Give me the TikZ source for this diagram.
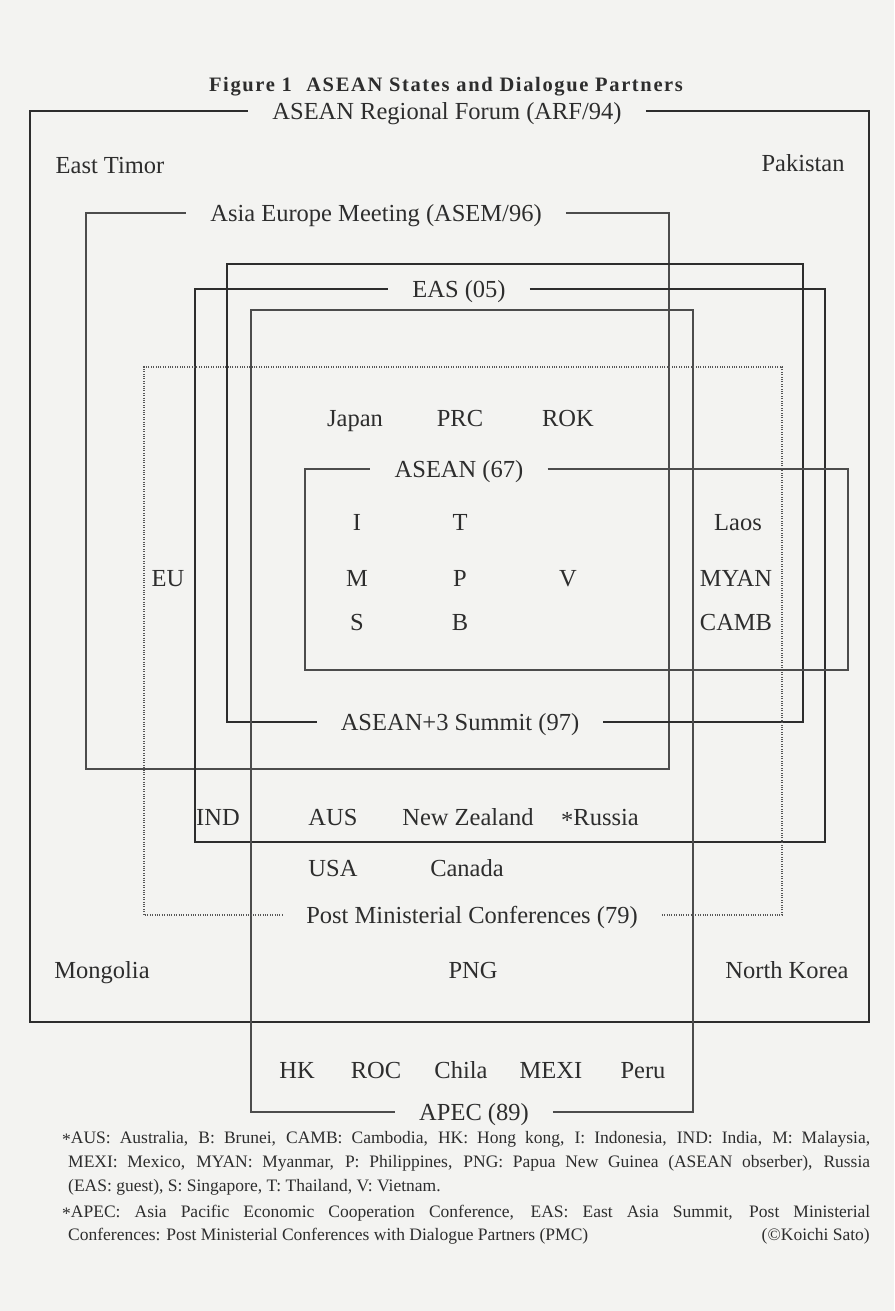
\documentclass[tikz,border=0pt]{standalone}
\usepackage{fontspec}
\setmainfont{Liberation Serif}
\definecolor{paper}{RGB}{243,243,241}
\definecolor{ink}{RGB}{45,45,45}
\begin{document}
\begin{tikzpicture}[x=1pt,y=-1pt,
  lab/.style={font=\fontsize{24.5}{28}\selectfont, text=ink, inner sep=0pt, text height=16.4pt, text depth=0pt},
  gaplab/.style={lab, inner xsep=24pt},
  heavy/.style={draw=ink, line width=1.9pt, line join=miter},
  light/.style={draw=ink!85, line width=1.1pt},
  dots/.style={draw=ink!80, line width=1.3pt, dash pattern=on 1pt off 1.4pt},
  foot/.style={font=\fontsize{17.5}{20}\selectfont, text=ink, inner sep=0pt, anchor=base west},
  ttl/.style={font=\fontsize{20.5}{24}\selectfont\bfseries\addfontfeatures{LetterSpace=8}, text=ink, inner sep=0pt, text height=14pt, text depth=0pt}]
\fill[paper] (0,0) rectangle (894,1311);
\useasboundingbox (0,0) rectangle (894,1311);

% title
\node[ttl] (title) at (446,85) {Figure 1\hspace{0.7em}ASEAN States and Dialogue Partners};

% ARF
\node[gaplab] (arf) at (447,111) {ASEAN Regional Forum (ARF/94)};
\draw[heavy] (arf.east) -- (869,111) -- (869,1022) -- (30,1022) -- (30,111) -- (arf.west);

% ASEM
\node[gaplab] (asem) at (376,213) {Asia Europe Meeting (ASEM/96)};
\draw[light] (asem.east) -- (669,213) -- (669,769) -- (86,769) -- (86,213) -- (asem.west);

% ASEAN+3
\node[gaplab] (apt) at (460,722) {ASEAN+3 Summit (97)};
\draw[heavy] (apt.east) -- (803,722) -- (803,264) -- (227,264) -- (227,722) -- (apt.west);

% EAS
\node[gaplab] (eas) at (459,289) {EAS (05)};
\draw[heavy] (eas.east) -- (825,289) -- (825,842) -- (195,842) -- (195,289) -- (eas.west);

% APEC
\node[gaplab] (apec) at (474,1112) {APEC (89)};
\draw[light] (apec.east) -- (693,1112) -- (693,310) -- (251,310) -- (251,1112) -- (apec.west);

% PMC
\node[gaplab] (pmc) at (472,915) {Post Ministerial Conferences (79)};
\draw[dots] (pmc.east) -- (782,915) -- (782,367) -- (144,367) -- (144,915) -- (pmc.west);

% ASEAN
\node[gaplab] (asean) at (459,469) {ASEAN (67)};
\draw[light] (asean.east) -- (848,469) -- (848,670) -- (305,670) -- (305,469) -- (asean.west);

% country labels
\node[lab] (etimor) at (110,165) {East Timor};
\node[lab] (pak) at (803,163) {Pakistan};
\node[lab] (japan) at (355,418) {Japan};
\node[lab] (prc) at (460,418) {PRC};
\node[lab] (rok) at (568,418) {ROK};
\node[lab] (i) at (357,522) {I};
\node[lab] (t) at (460,522) {T};
\node[lab] (laos) at (738,522) {Laos};
\node[lab] (eu) at (168,578) {EU};
\node[lab] (m) at (357,578) {M};
\node[lab] (p) at (460,578) {P};
\node[lab] (v) at (568,578) {V};
\node[lab] (myan) at (736,578) {MYAN};
\node[lab] (s) at (357,622) {S};
\node[lab] (b) at (460,622) {B};
\node[lab] (camb) at (736,622) {CAMB};
\node[lab] (ind) at (218,817) {IND};
\node[lab] (aus) at (333,817) {AUS};
\node[lab] (nz) at (468,817) {New Zealand};
\node[lab] (russia) at (600,817) {\raisebox{-0.3ex}{*}Russia};
\node[lab] (usa) at (333,868) {USA};
\node[lab] (canada) at (467,868) {Canada};
\node[lab] (mongolia) at (102,970) {Mongolia};
\node[lab] (png) at (473,970) {PNG};
\node[lab] (nkorea) at (787,970) {North Korea};
\node[lab] (hk) at (297,1070) {HK};
\node[lab] (roc) at (376,1070) {ROC};
\node[lab] (chila) at (461,1070) {Chila};
\node[lab] (mexi) at (551,1070) {MEXI};
\node[lab] (peru) at (643,1070) {Peru};

% footnotes
\node[foot] (f1) at (62,1143) {\makebox[808pt][s]{\raisebox{-0.3ex}{*}AUS: Australia, B: Brunei, CAMB: Cambodia, HK: Hong kong, I: Indonesia, IND: India, M: Malaysia,}};
\node[foot] (f2) at (68,1167) {\makebox[802pt][s]{MEXI: Mexico, MYAN: Myanmar, P: Philippines, PNG: Papua New Guinea (ASEAN obserber), Russia}};
\node[foot] (f3) at (68,1191) {(EAS: guest), S: Singapore, T: Thailand, V: Vietnam.};
\node[foot] (f4) at (62,1217) {\makebox[808pt][s]{\raisebox{-0.3ex}{*}APEC: Asia Pacific Economic Cooperation Conference, EAS: East Asia Summit, Post Ministerial}};
\node[foot] (f5) at (68,1240) {Conferences: Post Ministerial Conferences with Dialogue Partners (PMC)};
\node[foot, anchor=base east] (credit) at (870,1240) {(©Koichi Sato)};
\end{tikzpicture}
\end{document}
